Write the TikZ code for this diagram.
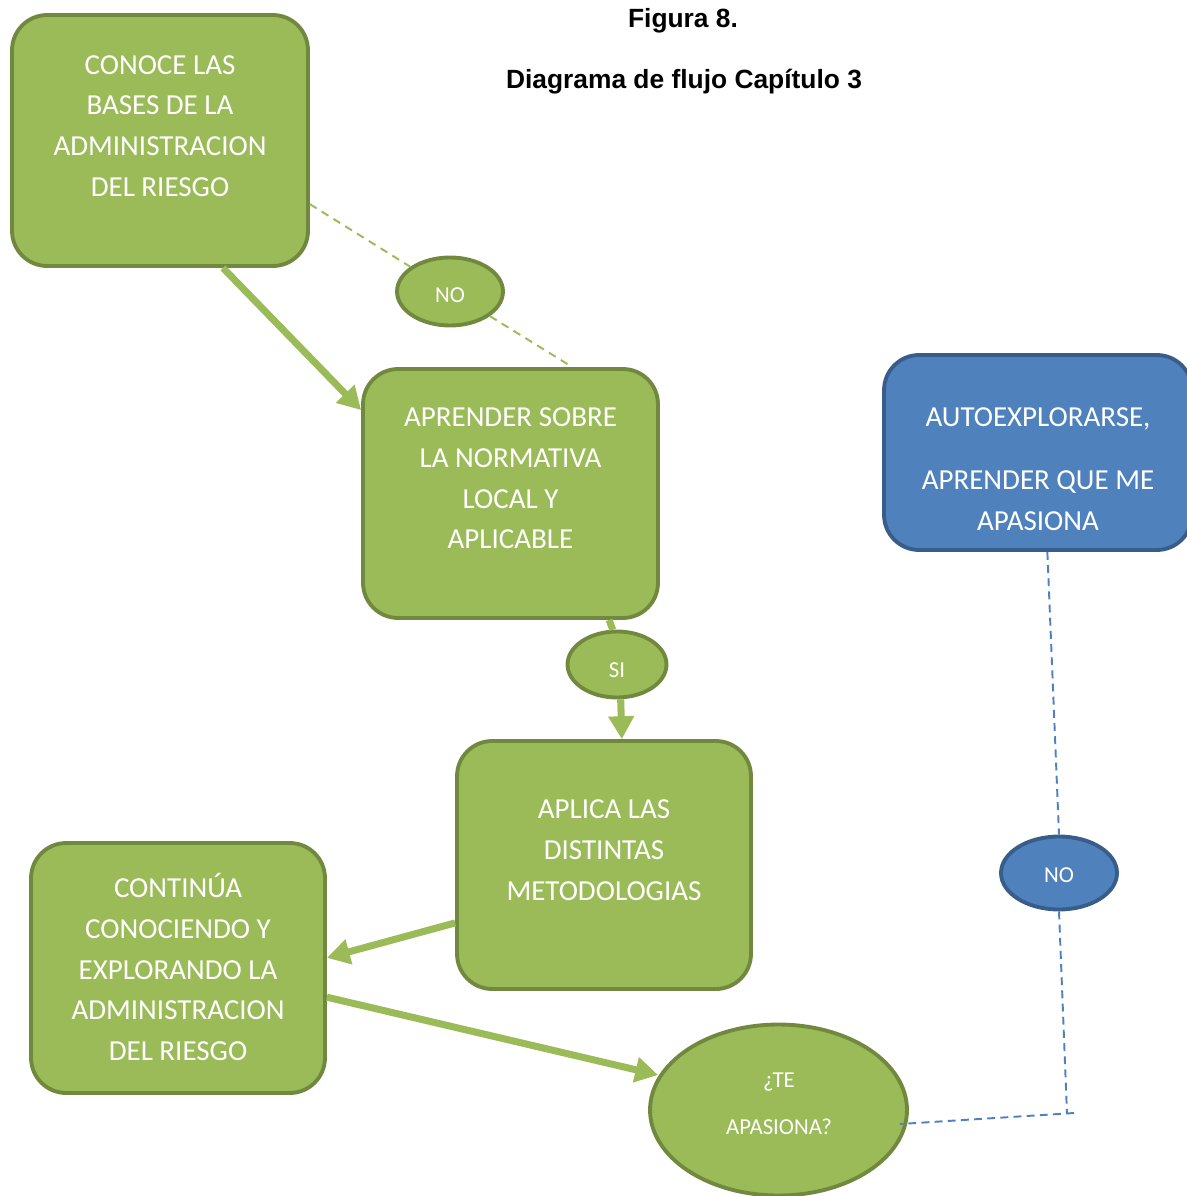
\documentclass[tikz,border=0pt]{standalone}
\usepackage{fontspec}
\setmainfont{Carlito}
\newfontfamily\titlefont{Liberation Sans}
\usetikzlibrary{shapes.geometric,arrows.meta,calc}
\definecolor{gfill}{HTML}{9BBB59}
\definecolor{gdark}{HTML}{71893F}
\definecolor{bfill}{HTML}{4F81BD}
\definecolor{bdark}{HTML}{385D8A}
\begin{document}
\begin{tikzpicture}[x=0.02cm,y=-0.02cm,
 gbox/.style={draw=gdark, fill=gfill, line width=2.2pt, rounded corners=20pt, inner sep=0pt},
 bbox/.style={draw=bdark, fill=bfill, line width=2.2pt, rounded corners=20pt, inner sep=0pt},
 gell/.style={ellipse, draw=gdark, fill=gfill, line width=2.2pt, inner sep=0pt},
 bell/.style={ellipse, draw=bdark, fill=bfill, line width=2.2pt, inner sep=0pt},
 big/.style={text=white, align=center, font=\fontsize{16.5}{23.2}\selectfont, inner sep=0pt},
 small/.style={text=white, align=center, font=\fontsize{13}{27}\selectfont, inner sep=0pt},
 garrow/.style={draw=gfill, line width=4pt, -{Triangle[length=13pt,width=14pt]}},
 gline/.style={draw=gfill, line width=4pt},
 gdash/.style={draw=gfill, line width=1.1pt, dash pattern=on 4.5pt off 3.4pt},
 bdash/.style={draw=bfill, line width=1.1pt, dash pattern=on 4.5pt off 3pt},
 ttl/.style={font=\titlefont\bfseries\fontsize{15}{18}\selectfont, inner sep=0pt, anchor=base}]
\useasboundingbox (0,0) rectangle (1186,1196);

% titles
\node[ttl] (t1) at (683,28) {Figura 8.};
\node[ttl] (t2) at (684,89) {Diagrama de flujo Capítulo 3};

% boxes
\node[gbox, minimum width=5.92cm, minimum height=5.02cm] (b1) at (160,140.5) {};
\node[big] (b1t) at (160,126) {CONOCE LAS\\BASES DE LA\\ADMINISTRACION\\DEL RIESGO};

\node[gbox, minimum width=5.9cm, minimum height=4.98cm] (b2) at (510.5,493.5) {};
\node[big] (b2t) at (510.5,478.5) {APRENDER SOBRE\\LA NORMATIVA\\LOCAL Y\\APLICABLE};

\node[gbox, minimum width=5.88cm, minimum height=4.96cm] (b3) at (604,865) {};
\node[big] (b3t) at (604,850) {APLICA LAS\\DISTINTAS\\METODOLOGIAS};

\node[gbox, minimum width=5.88cm, minimum height=5.0cm] (b4) at (178,968) {};
\node[big] (b4t) at (178,967) {CONTINÚA\\CONOCIENDO Y\\EXPLORANDO LA\\ADMINISTRACION\\DEL RIESGO};

\node[bbox, minimum width=6.16cm, minimum height=3.9cm] (bb) at (1038,452.5) {};
\node[big] (bbt) at (1038,469) {AUTOEXPLORARSE,\\[13pt]APRENDER QUE ME\\APASIONA};

% ellipses
\node[gell, minimum width=2.12cm, minimum height=1.36cm] (no1) at (450,291.5) {};
\node[small] (no1t) at (450,295.5) {NO};

\node[gell, minimum width=1.98cm, minimum height=1.32cm] (si) at (617,664.5) {};
\node[small] (sit) at (617,670) {SI};

\node[bell, minimum width=2.32cm, minimum height=1.46cm] (bno) at (1059,873) {};
\node[small] (bnot) at (1059,875) {NO};

\node[gell, minimum width=5.14cm, minimum height=3.42cm] (te) at (778.5,1110) {};
\node[small] (tet) at (779,1104) {¿TE\\[0pt]APASIONA?};

% green dashed (NO path)
\draw[gdash] ($(b1.north east)!0.75!(b1.south east)$) -- (no1);
\draw[gdash] (no1) -- ($(b2.north west)!0.707!(b2.north east)$);

% thick green arrows
\draw[garrow] ($(b1.south west)!0.71!(b1.south east)$) -- ($(b2.north west)!0.17!(b2.south west)$);
\draw[gline] ($(b2.south west)!0.83!(b2.south east)$) -- (si.97);
\draw[garrow] (si.-84) -- ($(b3.north west)!0.56!(b3.north east)$);
\draw[garrow] ($(b3.north west)!0.73!(b3.south west)$) -- ($(b4.north east)!0.46!(b4.south east)$);
\draw[garrow] ($(b4.north east)!0.615!(b4.south east)$) -- ($(te.west)+(10,-35)$);

% blue dashed
\coordinate (c1) at (1067,1114);
\coordinate (c2) at (1074,1113);
\draw[bdash] ($(bb.south west)!0.53!(bb.south east)$) -- (bno.north);
\draw[bdash] (bno.south) -- (c1);
\draw[bdash] (c2) -- ($(te.east)+(-9,14)$);
\end{tikzpicture}
\end{document}
